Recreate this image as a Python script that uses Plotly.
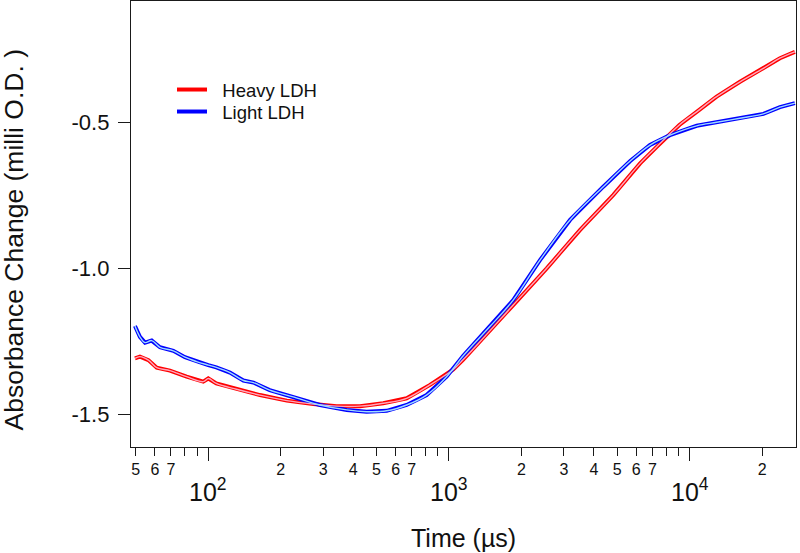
import plotly.graph_objects as go
import math

# ---- data (time in microseconds, absorbance change in milli O.D.) ----
heavy_time = [49.6, 52.0, 56.4, 61.1, 69.3, 81.3, 95.3, 100, 108, 131, 164, 212, 273, 341,
              427, 533, 667, 834, 1042, 1146, 1324, 1849, 2547, 3499, 4819, 6223, 7295,
              9057, 10690, 12940, 16180, 20230, 23710, 27350]
heavy_abs = [-1.309, -1.303, -1.315, -1.341, -1.351, -1.372, -1.389, -1.378, -1.395, -1.415,
             -1.435, -1.454, -1.466, -1.473, -1.473, -1.463, -1.446, -1.400, -1.347, -1.313,
             -1.258, -1.126, -1.000, -0.869, -0.748, -0.640, -0.583, -0.508, -0.463, -0.411,
             -0.360, -0.314, -0.279, -0.257]

light_time = [49.6, 52.0, 54.6, 58.2, 63.0, 71.6, 80.0, 89.5, 100, 108, 123, 140, 154, 180,
              225, 291, 376, 455, 551, 667, 807, 977, 1146, 1479, 1849, 2388, 3184, 4375,
              5660, 6840, 8279, 10690, 12940, 16180, 20230, 23710, 27350]
light_abs = [-1.198, -1.235, -1.255, -1.248, -1.271, -1.283, -1.305, -1.320, -1.332, -1.340,
             -1.358, -1.385, -1.392, -1.418, -1.441, -1.469, -1.486, -1.492, -1.489, -1.469,
             -1.435, -1.372, -1.300, -1.200, -1.109, -0.972, -0.834, -0.720, -0.632, -0.577,
             -0.543, -0.511, -0.499, -0.485, -0.470, -0.447, -0.433]

series_names = ["Heavy LDH", "Light LDH"]
y_tick_vals = [-1.5, -1.0, -0.5]
y_tick_text = ["-1.5", "-1.0", "-0.5"]
x_tick_vals = [50, 60, 70, 80, 90, 200, 300, 400, 500, 600, 700, 800, 900,
               2000, 3000, 4000, 5000, 6000, 7000, 8000, 9000, 20000]
x_tick_text = ["5", "6", "7", "", "", "2", "3", "4", "5", "6", "7", "", "",
               "2", "3", "4", "5", "6", "7", "", "", "2"]
decades = [100, 1000, 10000]
decade_labels = ["10<sup>2</sup>", "10<sup>3</sup>", "10<sup>4</sup>"]

FONT = "Arial, Liberation Sans, Helvetica, sans-serif"
AX = "#1a1a1a"

fig = go.Figure()

# measured data (thick)
fig.add_trace(go.Scatter(x=heavy_time, y=heavy_abs, mode="lines", name="\u00a0\u00a0" + series_names[0],
                         line=dict(color="#ff0000", width=4), showlegend=True, legend="legend"))
fig.add_trace(go.Scatter(x=light_time, y=light_abs, mode="lines", name="\u00a0\u00a0" + series_names[1],
                         line=dict(color="#0000ff", width=4), showlegend=True, legend="legend2"))
# fits (thin, light)
fig.add_trace(go.Scatter(x=heavy_time, y=heavy_abs, mode="lines", showlegend=False, hoverinfo="skip",
                         line=dict(color="#ffa8bc", width=1.4, shape="spline", smoothing=1.0)))
fig.add_trace(go.Scatter(x=light_time, y=light_abs, mode="lines", showlegend=False, hoverinfo="skip",
                         line=dict(color="#9fdcff", width=1.4, shape="spline", smoothing=1.0)))

fig.update_layout(
    width=800, height=553,
    margin=dict(l=131, r=4, t=1, b=106),
    paper_bgcolor="white", plot_bgcolor="white",
    font=dict(family=FONT, color="#111"),
    legend=dict(x=(172 - 131) / 665, y=(447 - 90) / 446, xanchor="left", yanchor="middle",
                bgcolor="rgba(0,0,0,0)", borderwidth=0, itemwidth=30,
                font=dict(size=18.5, family=FONT, color="#111")),
    legend2=dict(x=(172 - 131) / 665, y=(447 - 112) / 446, xanchor="left", yanchor="middle",
                 bgcolor="rgba(0,0,0,0)", borderwidth=0, itemwidth=30,
                 font=dict(size=18.5, family=FONT, color="#111")),
    xaxis=dict(
        type="log", range=[1.679, 4.4416],
        showgrid=False, zeroline=False,
        showline=True, linecolor=AX, linewidth=1.3, mirror=True,
        tickmode="array", tickvals=x_tick_vals, ticktext=x_tick_text,
        ticks="outside", ticklen=8, tickwidth=1.3, tickcolor=AX,
        tickfont=dict(size=16, family=FONT, color="#111"),
        minor=dict(tickmode="array", tickvals=decades, ticks="outside", ticklen=13,
                   tickwidth=1.3, tickcolor=AX, showgrid=False),
    ),
    yaxis=dict(
        range=[-1.6132, -0.0827],
        showgrid=False, zeroline=False,
        showline=True, linecolor=AX, linewidth=1.3, mirror=True,
        tickmode="array", tickvals=y_tick_vals, ticktext=y_tick_text,
        ticks="outside", ticklen=12, tickwidth=1.3, tickcolor=AX,
        tickfont=dict(size=22, family=FONT, color="#111"),
        ticklabelstandoff=4,
    ),
)

annotations = []
for d, lab in zip(decades, decade_labels):
    annotations.append(dict(x=math.log10(d), y=(447 - 490) / 446, xref="x", yref="paper",
                            text=lab, showarrow=False, xanchor="center", yanchor="middle",
                            font=dict(size=25, family=FONT, color="#111")))
annotations.append(dict(x=0.5, y=(447 - 538) / 446, xref="paper", yref="paper",
                        text="Time (\u00b5s)", showarrow=False, xanchor="center", yanchor="middle",
                        font=dict(size=25, family=FONT, color="#111")))
annotations.append(dict(x=(14 - 131) / 665, y=(447 - 240.5) / 446, xref="paper", yref="paper",
                        text="Absorbance Change (milli O.D. )", textangle=-90, showarrow=False,
                        xanchor="center", yanchor="middle",
                        font=dict(size=26.5, family=FONT, color="#111")))
fig.update_layout(annotations=annotations)

fig.write_html("out.html",
               config={"displayModeBar": False},
               post_script="document.body.style.margin='0';document.body.style.padding='0';"
                           "document.body.style.overflow='hidden';")
